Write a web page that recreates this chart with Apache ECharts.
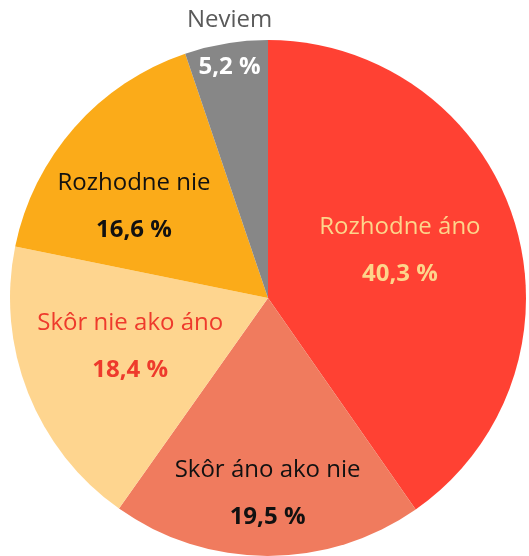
<!DOCTYPE html>
<html><head><meta charset="utf-8">
<script src="https://cdn.jsdelivr.net/npm/echarts@6/dist/echarts.min.js"></script>
<style>html,body{margin:0;padding:0;background:#fff}#c{width:529px;height:556px}</style>
</head><body><div id="c"></div>
<script>
const categories = ['Rozhodne áno', 'Skôr áno ako nie', 'Skôr nie ako áno', 'Rozhodne nie', 'Neviem'];
const values = [40.3, 19.5, 18.4, 16.6, 5.2];
const valueLabels = ['40,3 %', '19,5 %', '18,4 %', '16,6 %', '5,2 %'];

const sliceColors = ['#ff4133', '#f07b5e', '#fed58f', '#fbab19', '#878787'];
const nameColors = ['#fdd58b', '#111111', '#ee3a2c', '#111111', '#5a5a5a'];
const valueColors = ['#fdd58b', '#111111', '#ee3a2c', '#111111', '#ffffff'];
const labelShift = [[6, -8], [0, 64], [-15, 0], [-35, -4], [-17, -124]];

const chart = echarts.init(document.getElementById('c'));
chart.setOption({
  animation: false,
  series: [{
    type: 'pie',
    center: [268, 298],
    radius: 258,
    startAngle: 90,
    clockwise: true,
    avoidLabelOverlap: false,
    labelLine: { show: false },
    data: categories.map((n, i) => ({
      name: n,
      value: values[i],
      itemStyle: { color: sliceColors[i] },
      label: {
        show: true,
        position: 'inside',
        formatter: '{n|' + n + '}\n{v|' + valueLabels[i] + '}',
        rich: {
          n: { fontFamily: 'Open Sans', fontSize: 24, color: nameColors[i], lineHeight: 47 },
          v: { fontFamily: 'Open Sans', fontSize: 24, fontWeight: 'bold', color: valueColors[i], lineHeight: 47 }
        }
      }
    })),
    labelLayout: function (p) {
      const s = labelShift[p.dataIndex];
      return { dx: s[0], dy: s[1] };
    }
  }]
});
</script></body></html>
